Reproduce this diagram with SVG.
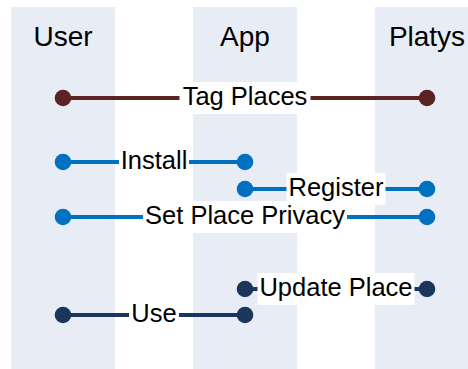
<svg xmlns="http://www.w3.org/2000/svg" width="468" height="369" viewBox="0 0 468 369">
<style>
.lane{fill:#e8edf5}
.title{font-family:"Liberation Sans",Arial,sans-serif;font-size:28px;fill:#000;text-anchor:middle}
.lbl{font-family:"Liberation Sans",Arial,sans-serif;font-size:25.5px;fill:#000;text-anchor:middle}
.bg{fill:#fff}
.ln{stroke-width:4;fill:none}
.red{stroke:#5c2323}
.redf{fill:#5c2323}
.blue{stroke:#0070c0}
.bluef{fill:#0070c0}
.navy{stroke:#1b365d}
.navyf{fill:#1b365d}
</style>
<rect width="468" height="369" fill="#fff"/>
<g id="user">
<rect class="lane" x="11" y="7" width="104" height="362"/>
<text class="title" x="63" y="46">User</text>
</g>
<g id="app">
<rect class="lane" x="193" y="7" width="104" height="362"/>
<text class="title" x="245" y="46">App</text>
</g>
<g id="platys">
<rect class="lane" x="375" y="7" width="104" height="362"/>
<text class="title" x="427" y="46">Platys</text>
</g>
<g id="connectors">
<g id="tag-places">
<line class="ln red" x1="63" y1="98" x2="427" y2="98"/>
<rect class="bg" x="179.5" y="82" width="131" height="32"/>
<text class="lbl" x="245" y="105">Tag Places</text>
<circle class="redf" cx="63" cy="98" r="8.3"/>
<circle class="redf" cx="427" cy="98" r="8.3"/>
</g>
<g id="install">
<line class="ln blue" x1="63" y1="162" x2="245" y2="162"/>
<rect class="bg" x="119" y="146" width="70" height="32"/>
<text class="lbl" x="154" y="169">Install</text>
<circle class="bluef" cx="63" cy="162" r="8.3"/>
<circle class="bluef" cx="245" cy="162" r="8.3"/>
</g>
<g id="register">
<line class="ln blue" x1="245" y1="189" x2="427" y2="189"/>
<rect class="bg" x="286.5" y="173" width="99" height="32"/>
<text class="lbl" x="336" y="196">Register</text>
<circle class="bluef" cx="245" cy="189" r="8.3"/>
<circle class="bluef" cx="427" cy="189" r="8.3"/>
</g>
<g id="set-place-privacy">
<line class="ln blue" x1="63" y1="217" x2="427" y2="217"/>
<rect class="bg" x="143" y="201" width="204" height="32"/>
<text class="lbl" x="245" y="224">Set Place Privacy</text>
<circle class="bluef" cx="63" cy="217" r="8.3"/>
<circle class="bluef" cx="427" cy="217" r="8.3"/>
</g>
<g id="update-place">
<line class="ln navy" x1="245" y1="289" x2="427" y2="289"/>
<rect class="bg" x="257.5" y="273" width="157" height="32"/>
<text class="lbl" x="336" y="296">Update Place</text>
<circle class="navyf" cx="245" cy="289" r="8.3"/>
<circle class="navyf" cx="427" cy="289" r="8.3"/>
</g>
<g id="use">
<line class="ln navy" x1="63" y1="315" x2="245" y2="315"/>
<rect class="bg" x="129" y="299" width="50" height="32"/>
<text class="lbl" x="154" y="322">Use</text>
<circle class="navyf" cx="63" cy="315" r="8.3"/>
<circle class="navyf" cx="245" cy="315" r="8.3"/>
</g>
</g>
</svg>
